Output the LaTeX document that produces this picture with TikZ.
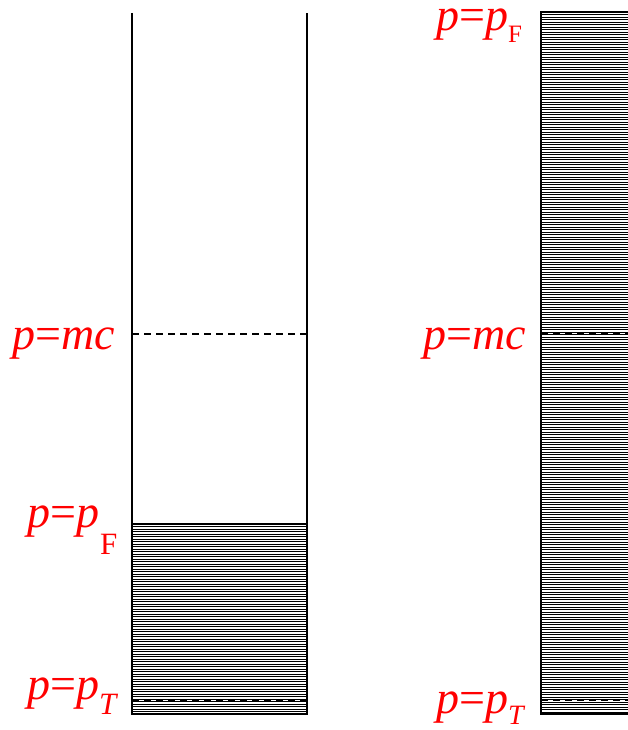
\documentclass[tikz,border=0pt]{standalone}
\usepackage{fontspec}
\setmainfont{Liberation Serif}
\usetikzlibrary{positioning}
\tikzset{
    wall/.style={
        draw=black,
        line width=1.6pt
    },
    level/.style={
        draw=black,
        line width=1.3pt,
        dash pattern=on 7pt off 5pt
    },
    hatch/.style={
        draw=black,
        line width=0.7pt
    },
    lab/.style={
        text=red,
        anchor=base west,
        inner sep=0pt,
        font=\fontsize{46}{50}\selectfont
    }
}

\begin{document}
\begin{tikzpicture}[x=1pt, y=-1pt]
            \clip (0,0) rectangle (628,730);

            % Left column: filled up to p_F
            \foreach \y in {526.5,529,...,713} {
                \draw [hatch] (132,\y) -- (307,\y);
            }
            \draw [wall] (132,13) -- (132,714) -- (307,714) -- (307,13);
            \draw [wall] (132,524) -- (307,524);
            \draw [draw=black, line width=2.4pt] (132,714) -- (307,714);
            \draw [level] (132,334) -- (307,334);
            \draw [level] (132,700) -- (307,700);

            % Right column: filled all the way
            \foreach \y in {14.5,17,...,713} {
                \draw [hatch] (541,\y) -- (640,\y);
            }
            \draw [wall] (640,12) -- (541,12) -- (541,714) -- (640,714);
            \draw [level] (541,334) -- (640,334);
            \draw [level] (541,700) -- (640,700);

            % Labels, left
            \node (lmc) [lab] at (12,349) {\textit{p}=\textit{mc}};
            \node (lpF) [lab] at (27,527) {\textit{p}=\textit{p}\hspace{1pt}\raisebox{-27pt}{\fontsize{31}{31}\selectfont F}};
            \node (lpT) [lab] at (27,699) {\textit{p}=\textit{p}\raisebox{-15pt}{\fontsize{31}{31}\selectfont\textit{T}}};

            % Labels, right
            \node (rpF) [lab] at (436,31) {\textit{p}=\textit{p}\raisebox{-12pt}{\fontsize{25}{25}\selectfont F}};
            \node (rmc) [lab] at (423,349) {\textit{p}=\textit{mc}};
            \node (rpT) [lab] at (436,713) {\textit{p}=\textit{p}\raisebox{-11pt}{\fontsize{28}{28}\selectfont\textit{T}}};
\end{tikzpicture}
\end{document}
